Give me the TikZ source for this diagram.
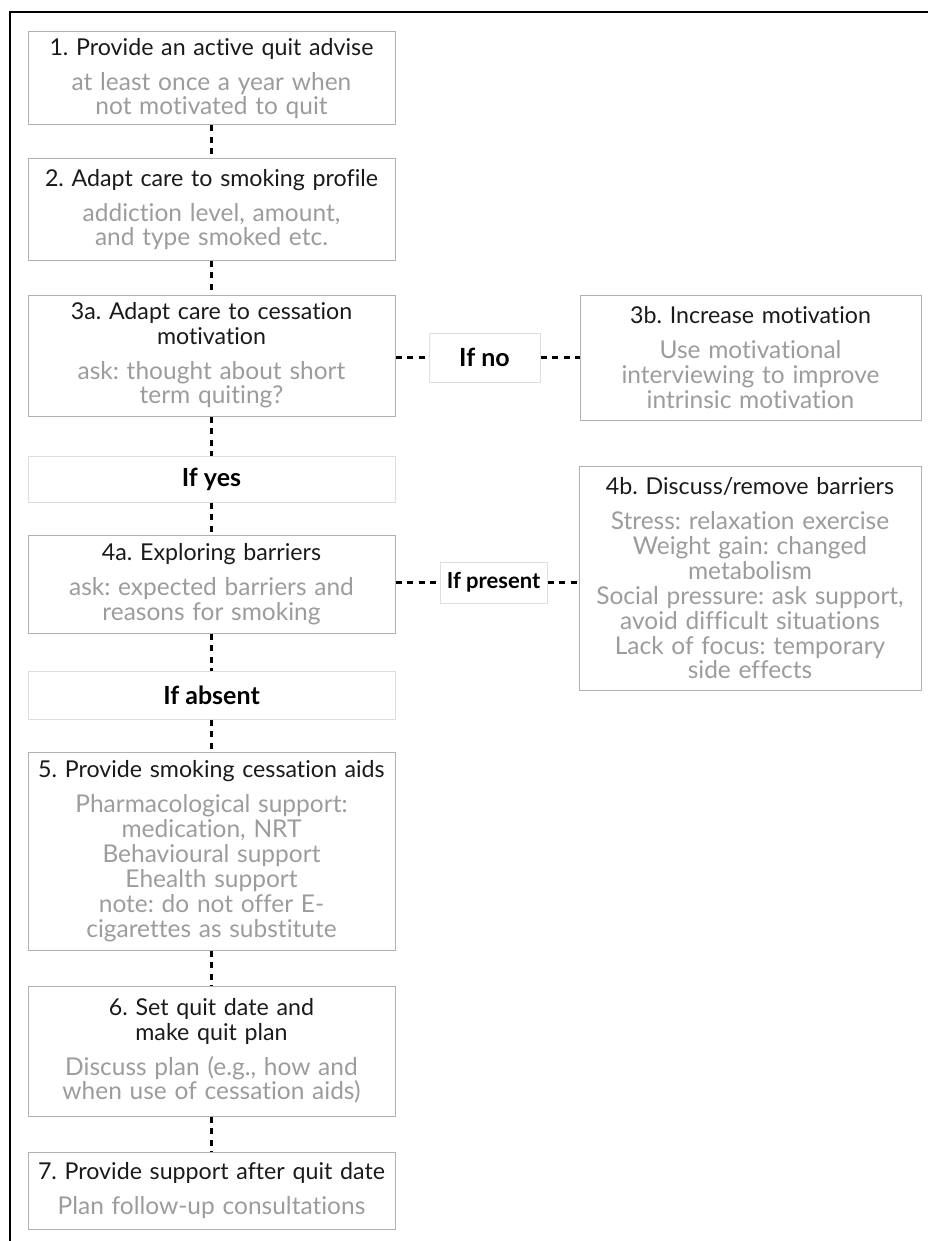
\documentclass[tikz,border=0pt]{standalone}
\usepackage{fontspec}
\setmainfont{Lato}[Ligatures=NoCommon]
\usepackage{tikz}
\frenchspacing

\definecolor{titlegray}{HTML}{1A1A1A}
\definecolor{subgray}{HTML}{9C9C9C}
\definecolor{boxline}{HTML}{B2B2B2}
\definecolor{ifline}{HTML}{DEDEDE}

\tikzset{
  stepbox/.style={draw=boxline, line width=1pt, text=titlegray, align=center, inner sep=0pt,
    font=\fontsize{23.2}{24.5}\selectfont},
  leftbox/.style={stepbox, minimum width=367pt, text width=365pt},
  rightbox/.style={stepbox, minimum width=341pt, text width=339pt},
  ifbox/.style={draw=ifline, line width=1pt, text=black, inner sep=0pt,
    font=\bfseries\fontsize{25}{30}\selectfont},
  link/.style={line width=3.2pt, dash pattern=on 6pt off 5.5pt},
}
\newcommand{\subline}{\\[10pt]\color{subgray}\fontsize{24.5}{25}\selectfont}

\begin{document}
\begin{tikzpicture}[x=1pt, y=-1pt]
\useasboundingbox (0,0) rectangle (928,1241);

\draw[line width=1.8pt] (928,12) -- (10,12) -- (10,1241);

\node[leftbox, minimum height=93pt] (s1) at (211.5,78.5)
  {1. Provide an active quit advise\subline at least once a year when\\not motivated to quit};
\node[leftbox, minimum height=101pt] (s2) at (211.5,209.5)
  {2. Adapt care to smoking profile\subline addiction level, amount,\\and type smoked etc.};
\node[leftbox, minimum height=121pt] (s3a) at (211.5,355.5)
  {3a. Adapt care to cessation\\motivation\subline ask: thought about short\\term quiting?};
\node[ifbox, minimum width=111pt, minimum height=49pt] (ifno) at (484.5,357.5) {If no};
\node[rightbox, minimum height=125pt] (s3b) at (750.5,357.5)
  {3b. Increase motivation\subline Use motivational\\interviewing to improve\\intrinsic motivation};

\node[ifbox, minimum width=367pt, minimum height=46pt] (ifyes) at (211.5,479) {If yes};
\node[leftbox, minimum height=98pt] (s4a) at (211.5,584)
  {4a. Exploring barriers\subline ask: expected barriers and\\reasons for smoking};
\node[ifbox, minimum width=107pt, minimum height=41pt, font=\bfseries\fontsize{22}{26}\selectfont]
  (ifpresent) at (493.5,582.5) {If present};
\node[rightbox, minimum width=342pt, minimum height=224pt] (s4b) at (750,578)
  {4b. Discuss/remove barriers\subline Stress: relaxation exercise\\Weight gain: changed\\metabolism\\
   Social pressure: ask support,\\avoid difficult situations\\Lack of focus: temporary\\side effects};

\node[ifbox, minimum width=367pt, minimum height=48pt] (ifabsent) at (211.5,695) {If absent};
\node[leftbox, minimum height=198pt] (s5) at (211.5,851)
  {5. Provide smoking cessation aids\subline Pharmacological support:\\medication, NRT\\Behavioural support\\
   Ehealth support\\note: do not offer E-\\cigarettes as substitute};
\node[leftbox, minimum height=130pt] (s6) at (211.5,1051)
  {6. Set quit date and\\make quit plan\subline Discuss plan (e.g., how and\\when use of cessation aids)};
\node[leftbox, minimum height=77pt] (s7) at (211.5,1190.5)
  {7. Provide support after quit date\subline Plan follow-up consultations};

\draw[link] (s1) -- (s2);
\draw[link] (s2) -- (s3a);
\draw[link] (s3a) -- (ifyes);
\draw[link] (ifyes) -- (s4a);
\draw[link] (s4a) -- (ifabsent);
\draw[link] (ifabsent) -- (s5);
\draw[link] (s5) -- (s6);
\draw[link] (s6) -- (s7);

\draw[link] (s3a.east |- ifno) -- (ifno);
\draw[link] (ifno) -- (ifno -| s3b.west);
\draw[link] (s4a.east |- ifpresent) -- (ifpresent);
\draw[link] (ifpresent) -- (ifpresent -| s4b.west);

\end{tikzpicture}
\end{document}
